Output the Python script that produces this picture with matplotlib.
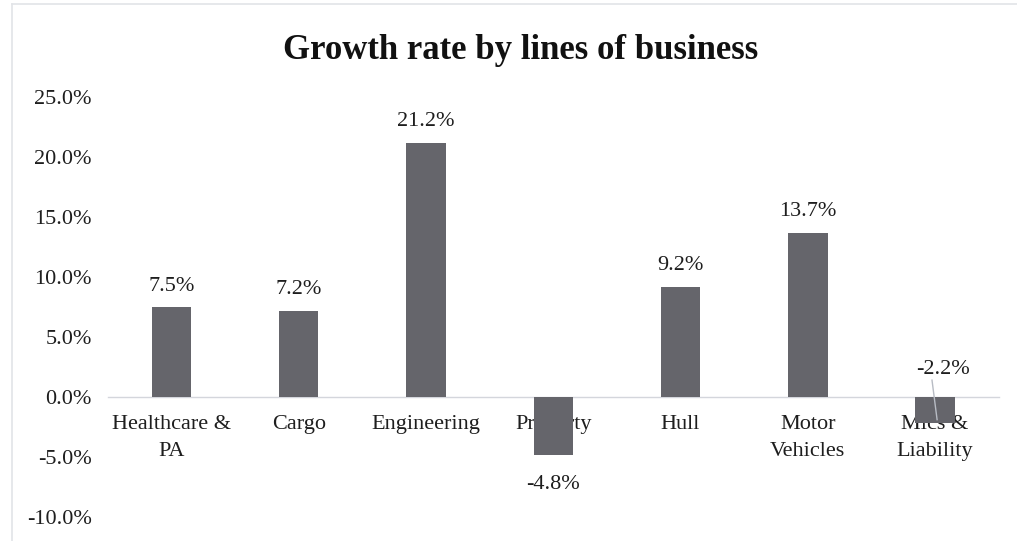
import numpy as np
import matplotlib.pyplot as plt
from matplotlib.lines import Line2D
from matplotlib.ticker import PercentFormatter

plt.rcParams['font.family'] = ['Liberation Serif', 'DejaVu Serif']
plt.rcParams['axes.unicode_minus'] = False

# Growth by line of business (%)
categories = ['Healthcare &\nPA', 'Cargo', 'Engineering', 'Property', 'Hull',
              'Motor\nVehicles', 'Mics &\nLiability']
growth = [7.5, 7.2, 21.2, -4.8, 9.2, 13.7, -2.2]
yticks = [-10, -5, 0, 5, 10, 15, 20, 25]

bar_color = '#65656b'
text_color = '#1e1e1e'

fig = plt.figure(figsize=(10.17, 5.41), dpi=100)
ax = fig.add_axes([0.106, 0.0444, 0.876, 0.7765])

x = np.arange(len(categories))
bars = ax.bar(x, growth, width=0.31, color=bar_color, zorder=3)

ax.set_xlim(-0.5, len(categories) - 0.5)
ax.set_ylim(-10, 25)
ax.set_yticks(yticks)
ax.yaxis.set_major_formatter(PercentFormatter(decimals=1))
ax.set_xticks(x)
ax.set_xticklabels(categories)

for s in ['top', 'right', 'left']:
    ax.spines[s].set_visible(False)
ax.spines['bottom'].set_position(('data', 0))
ax.spines['bottom'].set_color('#d4d6dc')
ax.spines['bottom'].set_linewidth(1.0)
ax.tick_params(axis='x', length=0, pad=13, labelsize=16, labelcolor=text_color)
ax.tick_params(axis='y', length=0, pad=11.5, labelsize=16, labelcolor=text_color)
for lbl in ax.get_xticklabels():
    lbl.set_linespacing(1.6)

# value labels
last = len(growth) - 1
for i, v in enumerate(growth):
    if i == last:
        continue
    if v >= 0:
        ax.annotate(f'{v:.1f}%', xy=(i, v), xytext=(0, 8), textcoords='offset points',
                    ha='center', va='bottom', fontsize=16, color=text_color)
    else:
        ax.annotate(f'{v:.1f}%', xy=(i, v), xytext=(0, -15), textcoords='offset points',
                    ha='center', va='top', fontsize=16, color=text_color)

# small negative bar: label sits above the axis with a leader line
v = growth[last]
ax.text(last + 0.06, 2.25, f'{v:.1f}%', ha='center', va='center', fontsize=16,
        color=text_color, zorder=4)
ax.plot([last - 0.024, last + 0.016], [1.4, v * 0.86], color='#b8bcc4', lw=1.0, zorder=4)

fig.text(0.512, 1 - 50 / 541, 'Growth rate by lines of business', ha='center',
         va='center', fontsize=25, fontweight='bold', color='#111111')

# chart frame edges
fig.add_artist(Line2D([12 / 1017, 12 / 1017], [0, 1 - 4 / 541],
                      transform=fig.transFigure, color='#e2e4e8', lw=1.2))
fig.add_artist(Line2D([12 / 1017, 1], [1 - 4 / 541, 1 - 4 / 541],
                      transform=fig.transFigure, color='#e2e4e8', lw=1.2))

fig.savefig('out.png', dpi=100)
